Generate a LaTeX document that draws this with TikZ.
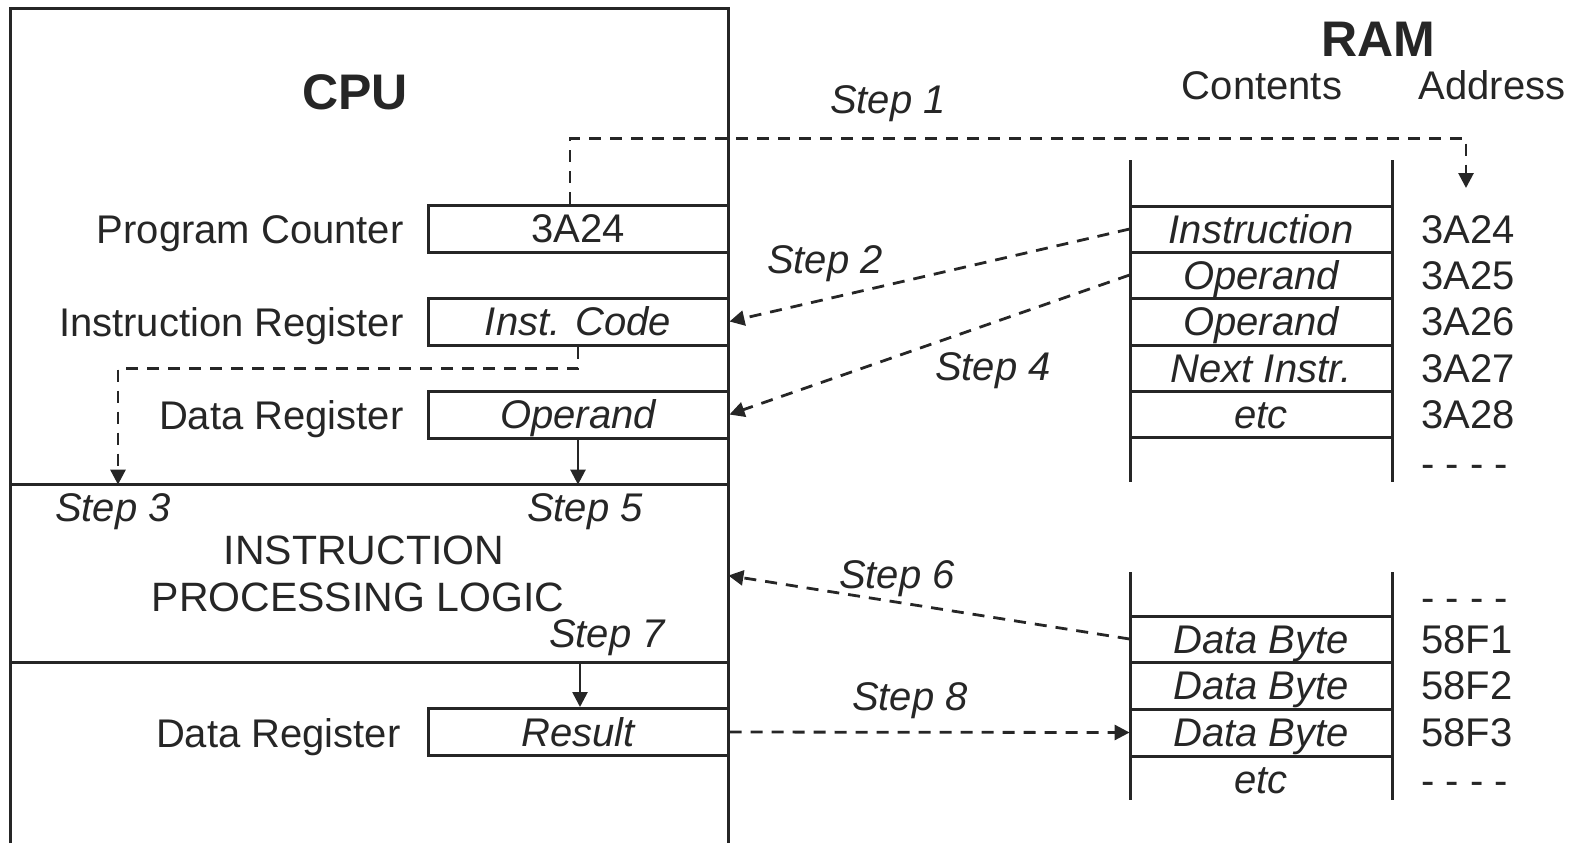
\documentclass[tikz,border=0pt]{standalone}
\usepackage{fontspec}
\setmainfont{Liberation Sans}
\usetikzlibrary{arrows.meta}
\begin{document}
\begin{tikzpicture}[x=0.5pt,y=-0.5pt,
  font=\fontsize{20}{23.5}\selectfont,
  every node/.style={text=black!85,text height=14.3pt,text depth=0pt},
  ln/.style={line width=1.5pt,draw=black!85},
  thin ln/.style={line width=1.3pt,draw=black!85},
  reg/.style={ln,minimum width=150pt,minimum height=23.5pt,inner sep=0pt},
  cell/.style={minimum width=131pt,minimum height=23pt,inner sep=0pt,font=\fontsize{20}{23.5}\selectfont\itshape},
  lbl/.style={inner sep=0pt,anchor=east},
  addr/.style={inner sep=0pt,anchor=west},
  stp/.style={inner sep=0pt,font=\fontsize{20}{23.5}\selectfont\itshape},
  big/.style={inner sep=0pt,font=\fontsize{25}{30}\selectfont\bfseries,text height=18pt},
  dsh/.style={line width=1.4pt,draw=black!85,dash pattern=on 6pt off 4.5pt},
  tip/.style={-{Triangle[length=7.5pt,width=7.5pt]}},
]
\useasboundingbox (0,0) rectangle (1569,843);

% CPU frame
\draw[ln] (10,843) -- (10,8) -- (728,8) -- (728,843);
\node[big] (cpu) at (355,91) {CPU};

% registers
\node[reg] (pc) at (578,228.5) {3A24};
\node[reg] (ir) at (578,321.5) {\itshape Inst. Code};
\node[reg] (dr) at (578,414.5) {\itshape Operand};
\node[reg] (res) at (578,732) {\itshape Result};
\node[lbl] (pcl) at (404,229) {Program Counter};
\node[lbl] (irl) at (404,322) {Instruction Register};
\node[lbl] (drl) at (404,415) {Data Register};
\node[lbl] (resl) at (401,733) {Data Register};

% processing logic
\node[minimum width=359pt,minimum height=88.5pt,inner sep=0pt] (ipl) at (369,573.5) {};
\draw[ln] (ipl.north west) -- (ipl.north east);
\draw[ln] (ipl.south west) -- (ipl.south east);
\node[inner sep=0pt,font=\fontsize{20.5}{24}\selectfont] (ipl1) at (364,550) {INSTRUCTION};
\node[inner sep=0pt,font=\fontsize{20.5}{24}\selectfont] (ipl2) at (358,597) {PROCESSING LOGIC};

% RAM
\node[big] (ram) at (1378,38) {RAM};
\node[inner sep=0pt] (cont) at (1262,85) {Contents};
\node[inner sep=0pt] (addh) at (1492,85) {Address};

\draw[ln] (1130,160) -- (1130,482) (1392,160) -- (1392,482);
\foreach \y in {206,252,298,345,391,437} \draw[ln] (1130,\y) -- (1392,\y);
\node[cell] (m1) at (1261,229) {Instruction};
\node[cell] (m2) at (1261,275) {Operand};
\node[cell] (m3) at (1261,321.5) {Operand};
\node[cell] (m4) at (1261,368) {Next Instr.};
\node[cell] (m5) at (1261,414) {etc};
\node[addr] (a1) at (1421,229) {3A24};
\node[addr] (a2) at (1421,275) {3A25};
\node[addr] (a3) at (1421,321.5) {3A26};
\node[addr] (a4) at (1421,368) {3A27};
\node[addr] (a5) at (1421,414) {3A28};
\node[addr] (a6) at (1421,463) {- - - -};

\draw[ln] (1130,572) -- (1130,800) (1392,572) -- (1392,800);
\foreach \y in {616,662,709,756} \draw[ln] (1130,\y) -- (1392,\y);
\node[cell] (d1) at (1261,639) {Data Byte};
\node[cell] (d2) at (1261,685.5) {Data Byte};
\node[cell] (d3) at (1261,732.5) {Data Byte};
\node[cell] (d4) at (1261,779) {etc};
\node[addr] (b0) at (1421,597) {- - - -};
\node[addr] (b1) at (1421,639) {58F1};
\node[addr] (b2) at (1421,685.5) {58F2};
\node[addr] (b3) at (1421,732.5) {58F3};
\node[addr] (b4) at (1421,780) {- - - -};

% step labels
\node[stp] (s1) at (888,99) {Step 1};
\node[stp] (s2) at (825,259) {Step 2};
\node[stp] (s3) at (113,507) {Step 3};
\node[stp] (s4) at (993,366) {Step 4};
\node[stp] (s5) at (585,507) {Step 5};
\node[stp] (s6) at (897,574) {Step 6};
\node[stp] (s7) at (607,633) {Step 7};
\node[stp] (s8) at (910,696) {Step 8};

% connectors
\coordinate (t1) at (1466,188);
\draw[dsh,tip] ([xshift=-4pt]pc.north) -- ++(0,-65) -| (t1);
\draw[dsh,tip] (m1.west) -- (ir.east);
\coordinate (c3) at (118,0);
\draw[dsh,tip] (ir.south) -- ++(0,22) -| (c3 |- ipl.north);
\draw[dsh,tip] (m2.west) -- (dr.east);
\draw[thin ln,tip] (dr.south) -- (dr.south |- ipl.north);
\draw[dsh,tip] (d1.west) -- ([yshift=-1pt]ipl.east);
\draw[thin ln,tip] ([xshift=1pt]res.north |- ipl.south) -- ([xshift=1pt]res.north);
\draw[dsh,tip] (res.east) -- (d3.west);
\end{tikzpicture}
\end{document}
